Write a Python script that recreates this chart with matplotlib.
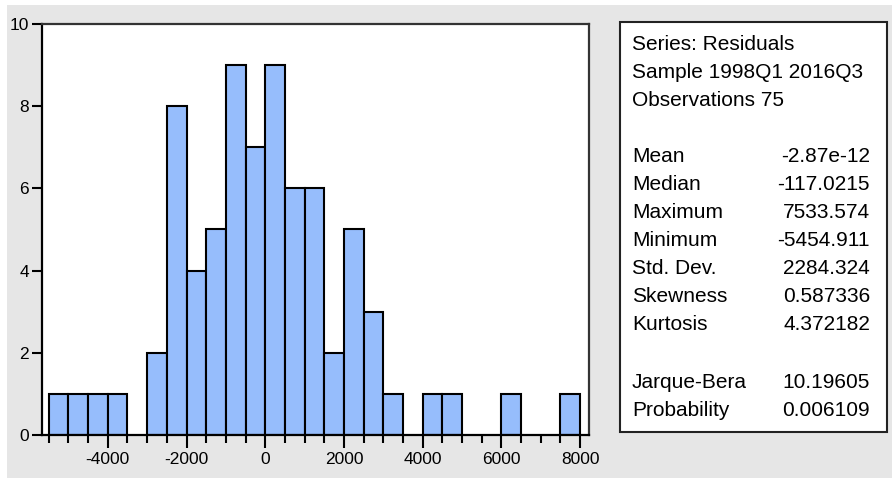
import numpy as np
import matplotlib.pyplot as plt
from matplotlib.patches import Rectangle
from matplotlib.ticker import MultipleLocator

plt.rcParams['font.family'] = ['Liberation Sans', 'DejaVu Sans']
plt.rcParams['axes.unicode_minus'] = False

# гистограмма остатков, интервалы по 500
bin_start = np.arange(-5500, 8000, 500)
counts = [1, 1, 1, 1, 0, 2, 8, 4, 5, 9, 7, 9, 6, 6, 2, 5, 3, 1, 0, 1, 1, 0, 0, 1, 0, 0, 1]
bin_width = 500

# описательная статистика
stat_header = ['Series: Residuals', 'Sample 1998Q1 2016Q3', 'Observations 75']
stat_names = ['Mean', 'Median', 'Maximum', 'Minimum', 'Std. Dev.', 'Skewness', 'Kurtosis']
stat_values = ['-2.87e-12', '-117.0215', '7533.574', '-5454.911', '2284.324', '0.587336', '4.372182']
test_names = ['Jarque-Bera', 'Probability']
test_values = ['10.19605', '0.006109']

W, H = 892, 478
fig = plt.figure(figsize=(W / 100, H / 100), dpi=100, facecolor='white')

# серый фон окна
fig.patches.append(Rectangle((7 / W, 0), 1, 1 - 5 / H, transform=fig.transFigure,
                             facecolor='#e6e6e6', edgecolor='none', zorder=-10))

ax = fig.add_axes([41.7 / W, (H - 435) / H, (588.7 - 41.7) / W, (435 - 24) / H])
ax.set_facecolor('white')

x = [b for b, c in zip(bin_start, counts) if c > 0]
h = [c for c in counts if c > 0]
ax.bar(x, h, width=bin_width, align='edge', color='#96bdfc', edgecolor='black', linewidth=1.5)

ax.set_xlim(-5680, 8220)
ax.set_ylim(0, 10)
ax.yaxis.set_major_locator(MultipleLocator(2))
ax.set_xticks(np.arange(-4000, 8001, 2000))
ax.set_xticks(np.arange(-5500, 8001, 500), minor=True)

ax.tick_params(axis='x', which='major', direction='out', length=9.5, width=1.5, pad=3, labelsize=12.5)
ax.tick_params(axis='x', which='minor', direction='out', length=6, width=1.5)
ax.tick_params(axis='y', which='major', direction='out', length=7, width=1.5, pad=2, labelsize=12.5)
ax.tick_params(axis='y', which='minor', length=0)

for side in ['left', 'bottom']:
    ax.spines[side].set_color('black')
    ax.spines[side].set_linewidth(1.6)
for side in ['top', 'right']:
    ax.spines[side].set_color('#333333')
    ax.spines[side].set_linewidth(1.6)

# панель со статистикой
fig.patches.append(Rectangle((620 / W, (H - 432) / H), (887 - 620) / W, (432 - 22) / H,
                             transform=fig.transFigure, facecolor='white',
                             edgecolor='#222222', linewidth=1.5, zorder=1))

fs = 15
lx, rx = 632 / W, 870 / W
for i, s in enumerate(stat_header):
    fig.text(lx, (H - (45 + 28 * i)) / H, s, fontsize=fs, va='center', ha='left', zorder=2)
for i, (n, v) in enumerate(zip(stat_names, stat_values)):
    y = (H - (157 + 28 * i)) / H
    fig.text(lx, y, n, fontsize=fs, va='center', ha='left', zorder=2)
    fig.text(rx, y, v, fontsize=fs, va='center', ha='right', zorder=2)
for i, (n, v) in enumerate(zip(test_names, test_values)):
    y = (H - (382 + 28 * i)) / H
    fig.text(lx, y, n, fontsize=fs, va='center', ha='left', zorder=2)
    fig.text(rx, y, v, fontsize=fs, va='center', ha='right', zorder=2)

fig.savefig('out.png', dpi=100, facecolor=fig.get_facecolor())
